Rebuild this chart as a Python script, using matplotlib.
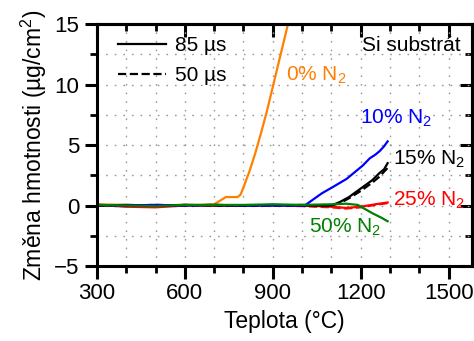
import matplotlib
matplotlib.use("Agg")
import matplotlib.pyplot as plt
from matplotlib.lines import Line2D
from matplotlib.ticker import MultipleLocator

plt.rcParams['font.family'] = ['Liberation Sans', 'DejaVu Sans']
plt.rcParams['mathtext.fontset'] = 'custom'
plt.rcParams['mathtext.rm'] = 'Liberation Sans'

# Mass change vs. temperature, Si substrate
t_0 = [300, 400, 500, 600, 650, 700, 720, 740, 760, 780, 790, 800, 820, 840, 860, 880, 900, 920, 940, 960]
m_0 = [0.1, 0.05, 0.0, 0.05, 0.05, 0.1, 0.4, 0.7, 0.7, 0.7, 0.9, 1.5, 2.8, 4.3, 6.0, 7.8, 9.8, 11.8, 13.8, 15.8]

t_10 = [300, 400, 500, 600, 700, 800, 900, 1009, 1067, 1110, 1152, 1207, 1231, 1250, 1265, 1280, 1292]
m_10 = [0.05, 0.0, 0.05, 0.0, 0.05, 0.0, 0.0, 0.0, 1.0, 1.6, 2.2, 3.3, 3.9, 4.2, 4.5, 4.9, 5.3]

t_15 = [300, 400, 500, 600, 700, 800, 900, 1000, 1100, 1130, 1160, 1200, 1240, 1265, 1280, 1292]
m_15_85 = [0.0, 0.05, 0.0, 0.05, 0.0, 0.0, 0.05, 0.0, 0.0, 0.3, 0.7, 1.4, 2.1, 2.7, 3.0, 3.5]
m_15_50 = [0.0, 0.0, 0.05, 0.0, 0.05, 0.0, 0.0, 0.05, 0.0, 0.2, 0.6, 1.2, 1.9, 2.4, 2.8, 3.1]

t_25 = [300, 400, 500, 600, 700, 800, 900, 1000, 1100, 1150, 1200, 1250, 1292]
m_25_85 = [0.05, -0.1, -0.15, 0.0, 0.0, 0.0, 0.0, 0.0, -0.1, -0.2, -0.1, 0.1, 0.25]
m_25_50 = [0.0, -0.05, -0.1, 0.05, 0.0, 0.0, 0.0, -0.05, -0.15, -0.25, -0.15, 0.05, 0.2]

t_50 = [300, 400, 500, 600, 700, 800, 900, 1000, 1100, 1150, 1190, 1241, 1270, 1292]
m_50 = [0.05, 0.0, -0.05, 0.05, 0.05, 0.05, 0.1, 0.05, 0.1, 0.15, 0.05, -0.65, -1.0, -1.3]

labels = ['0% N$_2$', '10% N$_2$', '15% N$_2$', '25% N$_2$', '50% N$_2$']
colors = ['#FF8000', '#0000FF', '#000000', '#FF0000', '#008000']

fig = plt.figure(figsize=(4.74, 3.41), dpi=100)
ax = fig.add_axes([0.2046, 0.2199, 0.7912, 0.7097])

lw = 1.6
ax.plot(t_0, m_0, color=colors[0], lw=lw)
ax.plot(t_25, m_25_85, color=colors[3], lw=lw)
ax.plot(t_25, m_25_50, color=colors[3], lw=lw, ls='--')
ax.plot(t_15, m_15_50, color=colors[2], lw=lw, ls='--')
ax.plot(t_15, m_15_85, color=colors[2], lw=lw)
ax.plot(t_10, m_10, color=colors[1], lw=lw)
ax.plot(t_50, m_50, color=colors[4], lw=lw)

ax.set_xlim(300, 1580)
ax.set_ylim(-5, 15)
ax.xaxis.set_major_locator(MultipleLocator(300))
ax.xaxis.set_minor_locator(MultipleLocator(100))
ax.yaxis.set_major_locator(MultipleLocator(5))
ax.yaxis.set_minor_locator(MultipleLocator(2.5))
ax.grid(True, which='both', ls=(0, (1.2, 5)), color='#999999', lw=1.0)

for s in ax.spines.values():
    s.set_linewidth(2.2)
ax.tick_params(which='major', direction='out', length=9, width=2.2, labelsize=16)
ax.tick_params(which='minor', direction='out', length=5, width=2.0)

top = ax.secondary_xaxis('top')
top.xaxis.set_major_locator(MultipleLocator(300))
top.xaxis.set_minor_locator(MultipleLocator(100))
top.tick_params(which='major', direction='in', length=9, width=2.2, labeltop=False)
top.tick_params(which='minor', direction='in', length=5, width=2.0)
top.spines['top'].set_linewidth(2.2)

right = ax.secondary_yaxis('right')
right.yaxis.set_major_locator(MultipleLocator(5))
right.yaxis.set_minor_locator(MultipleLocator(2.5))
right.tick_params(which='major', direction='in', length=9, width=2.2, labelright=False)
right.tick_params(which='minor', direction='in', length=5, width=2.0)
right.spines['right'].set_linewidth(2.2)

ax.set_xlabel('Teplota (°C)', fontsize=16.5, labelpad=4)
ax.set_ylabel('Změna hmotnosti (µg/cm$^2$)', fontsize=16.5, labelpad=4)

fs = 15
ax.text(944, 10.8, labels[0], color=colors[0], fontsize=fs, va='center')
ax.text(1197, 7.2, labels[1], color=colors[1], fontsize=fs, va='center')
ax.text(1309, 3.8, labels[2], color=colors[2], fontsize=fs, va='center')
ax.text(1309, 0.4, labels[3], color=colors[3], fontsize=fs, va='center')
ax.text(1023, -1.8, labels[4], color=colors[4], fontsize=fs, va='center')
ax.text(1203, 13.2, 'Si substrát', color='black', fontsize=fs, va='center')

handles = [Line2D([], [], color='black', lw=lw),
           Line2D([], [], color='black', lw=lw, ls='--')]
ax.legend(handles, ['85 µs', '50 µs'], loc='upper left', bbox_to_anchor=(0.035, 0.985),
          frameon=False, fontsize=fs, handlelength=2.3, handletextpad=0.4,
          labelspacing=0.55, borderaxespad=0)

fig.savefig('out.png', dpi=100)
